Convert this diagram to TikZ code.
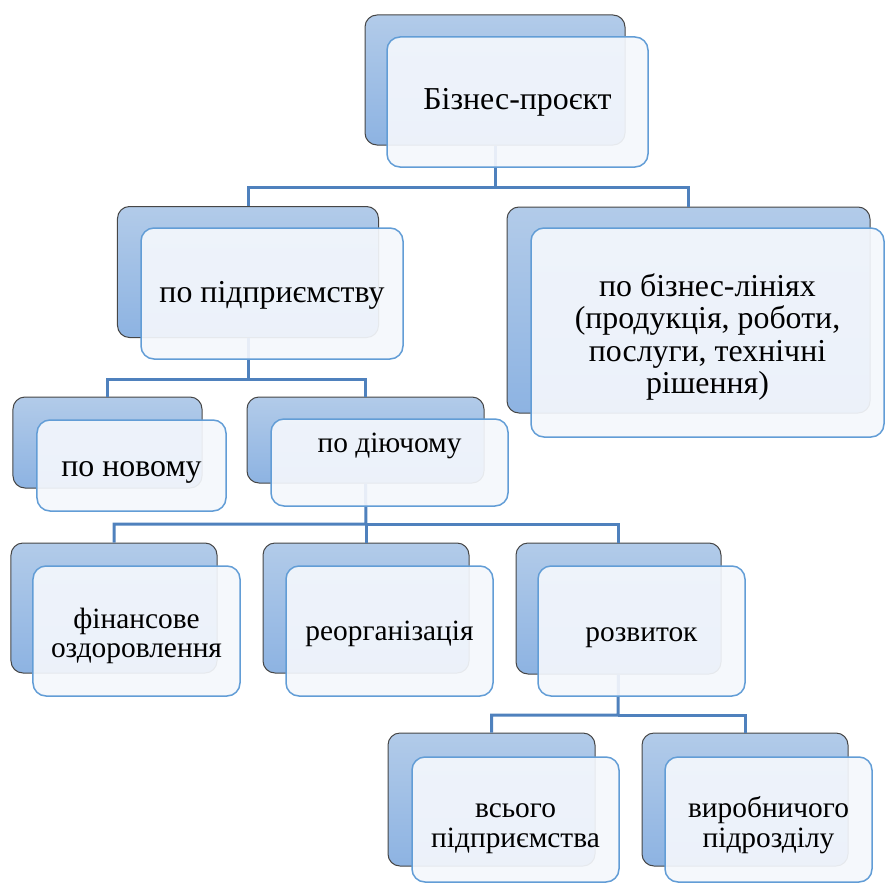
\documentclass[tikz,border=0pt]{standalone}
\usepackage{fontspec}
\setmainfont{Liberation Serif}
\definecolor{connc}{RGB}{79,129,189}
\definecolor{frontline}{RGB}{98,157,214}
\definecolor{frontfill}{RGB}{244,247,252}
\definecolor{backtop}{RGB}{178,203,233}
\definecolor{backbot}{RGB}{141,179,226}
\definecolor{backline}{RGB}{70,70,70}
\newcommand{\txtlines}[2]{\raisebox{#1}[\height][\depth]{\begin{tabular}{@{}c@{}}#2\end{tabular}}}
\begin{document}
\begin{tikzpicture}[x=1bp,y=1bp,
  backbox/.style={rectangle, rounded corners=12bp, draw=backline, line width=1bp,
    top color=backtop, bottom color=backbot, inner sep=0pt},
  frontbox/.style={rectangle, rounded corners=13bp, draw=frontline, line width=1.5bp,
    fill=frontfill, fill opacity=0.92, text opacity=1, inner sep=0pt, align=center,
    font=\fontsize{29.5}{30}\selectfont},
  bigtext/.style={font=\fontsize{32}{32.5}\selectfont},
  conn/.style={draw=connc, line width=3bp}
]
\useasboundingbox (0,0) rectangle (885,-883);

% junction points of the connectors
\coordinate (a1) at (495,-187);
\coordinate (b1) at (248,-379);
\coordinate (e1) at (366,-524);
\coordinate (h1) at (618,-715);

% back boxes
\node[backbox, minimum width=260bp, minimum height=130bp] (A) at (495,-80) {};
\node[backbox, minimum width=261bp, minimum height=131bp] (B) at (248,-272) {};
\node[backbox, minimum width=363bp, minimum height=206bp] (C) at (688.5,-310) {};
\node[backbox, minimum width=189bp, minimum height=91bp] (D) at (107.5,-442.5) {};
\node[backbox, minimum width=237bp, minimum height=86bp] (E) at (365.5,-440) {};
\node[backbox, minimum width=206bp, minimum height=130bp] (F) at (114,-608) {};
\node[backbox, minimum width=206bp, minimum height=130bp] (G) at (366,-608) {};
\node[backbox, minimum width=205bp, minimum height=131bp] (H) at (618.5,-608.5) {};
\node[backbox, minimum width=207bp, minimum height=133bp] (I) at (491.5,-799.5) {};
\node[backbox, minimum width=206bp, minimum height=133bp] (J) at (745,-799.5) {};

\path[conn] (A.south) -- (a1) -| (B.north);
\path[conn] (a1) -| (C.north);
\path[conn] (B.south) -- (b1) -| (D.north);
\path[conn] (b1) -| (E.north);
\path[conn] (E.south) -- (e1) -| (F.north);
\path[conn] (e1) -| (G.north);
\path[conn] (e1) -| (H.north);
\path[conn] (H.south) -- (h1) -| (I.north);
\path[conn] (h1) -| (J.north);

% front boxes with text
\node[frontbox, bigtext, minimum width=261bp, minimum height=130bp] (Af) at (517.5,-102) {\txtlines{-1bp}{Бізнес-проєкт}};
\node[frontbox, bigtext, minimum width=262bp, minimum height=131bp] (Bf) at (272,-293.5) {\txtlines{-3bp}{по підприємству}};
\node[frontbox, bigtext, minimum width=353bp, minimum height=209bp] (Cf) at (707.5,-332.5) {\txtlines{-6bp}{по бізнес-лініях\\(продукція, роботи,\\послуги, технічні\\рішення)}};
\node[frontbox, bigtext, minimum width=189bp, minimum height=91bp] (Df) at (131.5,-465.5) {\txtlines{-5bp}{по новому}};
\node[frontbox, minimum width=237bp, minimum height=87bp] (Ef) at (389.5,-462.5) {\txtlines{16bp}{по діючому}};
\node[frontbox, minimum width=207bp, minimum height=130bp] (Ff) at (136.5,-631) {\txtlines{-6bp}{фінансове\\оздоровлення}};
\node[frontbox, minimum width=207bp, minimum height=130bp] (Gf) at (389.5,-631) {\txtlines{-4bp}{реорганізація}};
\node[frontbox, minimum width=207bp, minimum height=130bp] (Hf) at (641.5,-631) {\txtlines{-5bp}{розвиток}};
\node[frontbox, minimum width=207bp, minimum height=125bp] (If) at (515.5,-819.5) {\txtlines{-7bp}{всього\\підприємства}};
\node[frontbox, minimum width=207bp, minimum height=125bp] (Jf) at (768.5,-819.5) {\txtlines{-7bp}{виробничого\\підрозділу}};
\end{tikzpicture}
\end{document}
